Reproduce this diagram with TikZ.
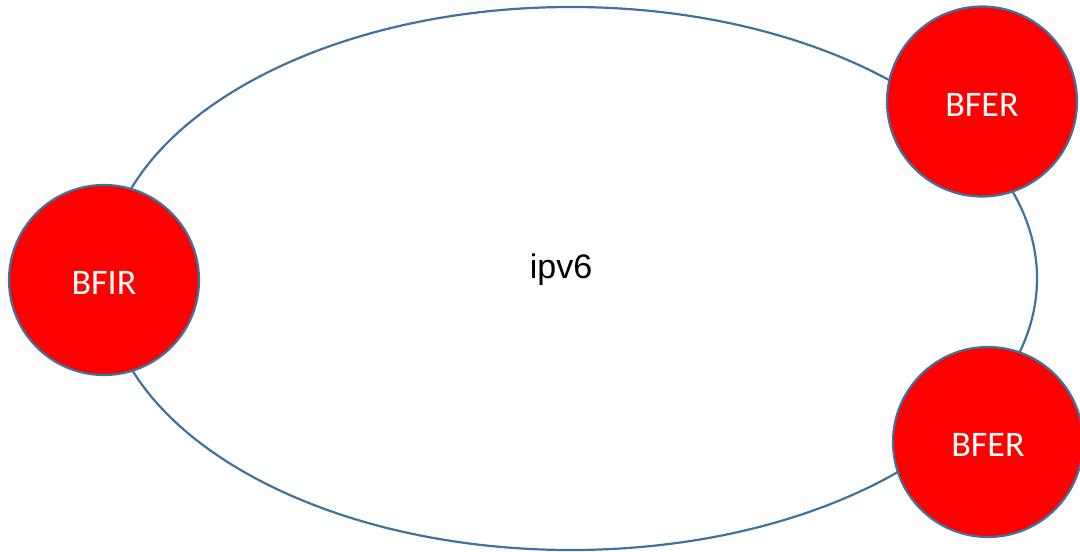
\documentclass[tikz,border=0pt]{standalone}
\usepackage{fontspec}
\setmainfont{Liberation Sans}
\newfontfamily\calib{Carlito}
\usetikzlibrary{shapes.geometric}
\definecolor{edgeblue}{HTML}{41719C}
\definecolor{nodered}{HTML}{FF0000}
\tikzset{
  router/.style={circle, draw=edgeblue, line width=2.2pt, fill=nodered, minimum size=190pt, inner sep=0pt, text=white, text height=29pt, text depth=0pt, font=\calib\fontsize{36}{40}\selectfont},
  net/.style={ellipse, draw=edgeblue, line width=2.2pt, minimum width=932pt, minimum height=543pt, inner sep=0pt},
  lbl/.style={font=\fontsize{34}{40}\selectfont, text=black}
}
\begin{document}
\begin{tikzpicture}[x=1pt,y=-1pt]
\useasboundingbox (0,0) rectangle (1080,552);
\node[net] (cloud) at (571,278.5) {};
\node[lbl] (ipv6) at (561,270) {ipv6};
\node[router] (bfir) at (104,280) {BFIR};
\node[router] (bfer1) at (982,101.5) {BFER};
\node[router] (bfer2) at (988,442) {BFER};
\end{tikzpicture}
\end{document}
